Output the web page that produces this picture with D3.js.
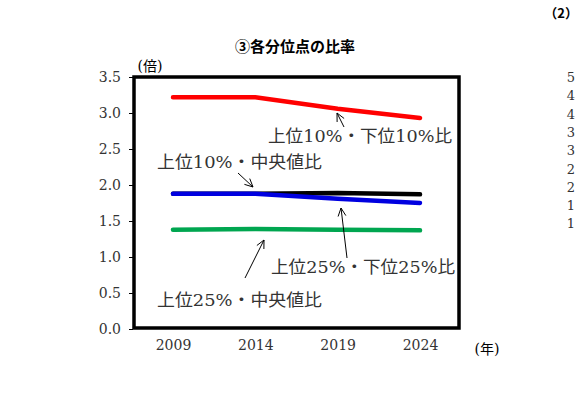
<!DOCTYPE html>
<html><head><meta charset="utf-8">
<script src="https://cdn.jsdelivr.net/npm/d3@7"></script>
<style>body{margin:0;background:#fff}</style></head><body>
<svg id="c" width="581" height="418"></svg>
<script>
const years = [2009, 2014, 2019, 2024];
const p90p10 = [3.22, 3.22, 3.06, 2.93];
const p90p50 = [1.88, 1.88, 1.89, 1.87];
const p75p25 = [1.88, 1.88, 1.81, 1.75];
const p75p50 = [1.38, 1.39, 1.38, 1.37];
const yTicks = [0, 0.5, 1, 1.5, 2, 2.5, 3, 3.5];
const rightTicks = ["5","4","4","3","3","2","2","1","1"];

const svg = d3.select("#c");
const serif = "'DejaVu Serif','Liberation Serif','Noto Sans CJK JP',serif";
const x = d3.scaleLinear().domain([2009, 2024]).range([173, 420]);
const y = d3.scaleLinear().domain([0, 3.5]).range([329, 77]);

svg.append("text").attr("x", 295).attr("y", 52).attr("text-anchor", "middle")
  .attr("font-family", "'Noto Sans CJK JP',sans-serif").attr("font-weight", "bold").attr("font-size", 15).text("③各分位点の比率");
svg.append("text").attr("x", 578).attr("y", 18).attr("text-anchor", "end").attr("font-family", "'Noto Sans CJK JP',sans-serif").attr("font-weight", "bold").attr("font-size", 13).text("（2）");
rightTicks.forEach((t, i) => svg.append("text").attr("x", 575).attr("y", 82 + i * 18.3).attr("text-anchor", "end")
  .attr("font-family", serif).attr("font-size", 13).attr("fill", "#333").text(t));

const ya = svg.append("g").attr("transform", "translate(133,0)")
  .call(d3.axisLeft(y).tickValues(yTicks).tickFormat(d3.format(".1f")).tickSize(4));
ya.select(".domain").remove();
ya.selectAll("text").attr("font-family", serif).attr("font-size", 14).attr("fill", "#333").attr("x", -12);
const xa = svg.append("g").attr("transform", "translate(0,329)")
  .call(d3.axisBottom(x).tickValues(years).tickFormat(d3.format("d")).tickSize(0));
xa.select(".domain").remove();
xa.selectAll("text").attr("font-family", serif).attr("font-size", 14).attr("fill", "#333").attr("dy", "1.3em");

svg.append("text").attr("x", 150).attr("y", 71).attr("text-anchor", "middle").attr("font-family", serif).attr("font-size", 14).text("(倍)");
svg.append("text").attr("x", 487).attr("y", 354).attr("text-anchor", "middle").attr("font-family", serif).attr("font-size", 14).text("(年)");

svg.append("rect").attr("x", 134).attr("y", 77).attr("width", 325).attr("height", 251)
  .attr("fill", "none").attr("stroke", "#000").attr("stroke-width", 3.5);

const line = d3.line().x((d, i) => x(years[i])).y(d => y(d));
[[p75p50, "#00a650"], [p90p50, "#000"], [p75p25, "#0000e0"], [p90p10, "#ff0000"]].forEach(([s, c]) =>
  svg.append("path").attr("d", line(s)).attr("fill", "none").attr("stroke", c).attr("stroke-width", 4.5).attr("stroke-linecap", "round"));

const labels = [
  ["上位10%・下位10%比", 268, 142, 184],
  ["上位10%・中央値比", 157, 168, 165],
  ["上位25%・下位25%比", 271, 273, 184],
  ["上位25%・中央値比", 157, 306, 165]
];
labels.forEach(([t, lx, ly, w]) => svg.append("text").attr("x", lx).attr("y", ly)
  .attr("font-family", serif).attr("font-size", 17).attr("fill", "#333")
  .attr("textLength", w).attr("lengthAdjust", "spacingAndGlyphs").text(t));

const arrows = [[344, 127, 337, 113], [238, 173, 253, 187], [347, 258, 341, 208], [245, 278, 264, 240]];
arrows.forEach(([x1, y1, x2, y2]) => {
  svg.append("line").attr("x1", x1).attr("y1", y1).attr("x2", x2).attr("y2", y2).attr("stroke", "#000").attr("stroke-width", 1);
  const a = Math.atan2(y2 - y1, x2 - x1), L = 9;
  [0.45, -0.45].forEach(o => svg.append("line").attr("x1", x2).attr("y1", y2)
    .attr("x2", x2 - L * Math.cos(a + o)).attr("y2", y2 - L * Math.sin(a + o)).attr("stroke", "#000").attr("stroke-width", 1));
});
</script></body></html>
